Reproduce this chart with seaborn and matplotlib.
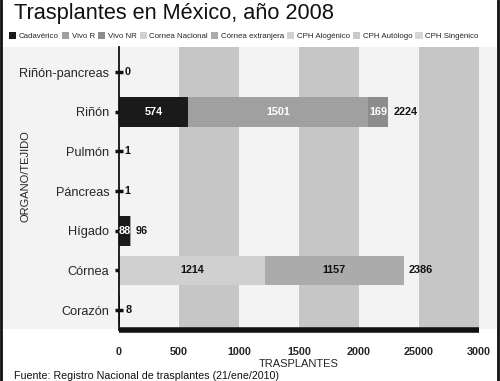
import numpy as np
import pandas as pd
import matplotlib.pyplot as plt
import seaborn as sns
from matplotlib.patches import Patch, Rectangle
from matplotlib.lines import Line2D
from matplotlib.font_manager import FontProperties

# datos
organos = ["Riñón-pancreas", "Riñón", "Pulmón", "Páncreas", "Hígado", "Córnea", "Corazón"]
cadaverico = [0, 574, 1, 1, 88, 0, 8]
vivo_r = [0, 1501, 0, 0, 8, 0, 0]
vivo_nr = [0, 169, 0, 0, 0, 0, 0]
cornea_nac = [0, 0, 0, 0, 0, 1214, 0]
cornea_ext = [0, 0, 0, 0, 0, 1157, 0]
totales = [0, 2224, 1, 1, 96, 2386, 8]
series = ["Cadavérico", "Vivo R", "Vivo NR", "Cornea Nacional", "Córnea extranjera",
          "CPH Alogénico", "CPH Autólogo", "CPH Singénico"]
xticks = [0, 500, 1000, 1500, 2000, 2500, 3000]
xticklabels = ["0", "500", "1000", "1500", "2000", "25000", "3000"]

colores = ["#1a1a1a", "#a0a0a0", "#8c8c8c", "#d0d0d0", "#ababab",
           "#d3d3d3", "#c9c9c9", "#d6d6d6"]
FONT = ["Liberation Sans", "DejaVu Sans"]

sns.set_style("white")
plt.rcParams["font.family"] = FONT

df = pd.DataFrame({"Organo": organos, "Cadavérico": cadaverico, "Vivo R": vivo_r,
                   "Vivo NR": vivo_nr, "Cornea Nacional": cornea_nac,
                   "Córnea extranjera": cornea_ext})
valores = df[series[:5]].to_numpy(dtype=float)
acum = np.cumsum(valores, axis=1)

fig = plt.figure(figsize=(5, 3.81), dpi=100)
W, H = 500, 381
ax = fig.add_axes([119 / W, 1 - 330 / H, 360 / W, 283 / H])
ax.set_zorder(2)

# fondo gris claro del panel
fondo = Rectangle((3 / W, 1 - 329 / H), 494 / W, 282 / H, transform=fig.transFigure,
                  facecolor="#f3f3f3", edgecolor="none", zorder=-5)
fig.add_artist(fondo)
ax.set_facecolor("none")

# franjas verticales
for a in range(500, 3000, 1000):
    ax.axvspan(a, a + 500, color="#c6c6c6", zorder=0.5, lw=0)

# barras apiladas (acumulados superpuestos)
for k in range(4, -1, -1):
    d = pd.DataFrame({"Organo": organos, "v": acum[:, k]})
    sns.barplot(data=d, x="v", y="Organo", orient="h", color=colores[k],
                width=0.75, saturation=1, ax=ax, zorder=2, linewidth=0)

# etiquetas dentro de las barras
for i in range(len(organos)):
    for k in range(5):
        v = valores[i, k]
        if v >= 50:
            izq = acum[i, k] - v
            col = "white" if k < 3 else "#111111"
            ax.text(izq + v / 2, i, f"{int(v)}", ha="center", va="center",
                    color=col, fontsize=7.8, fontweight="bold", zorder=5)
    ax.annotate(f"{totales[i]}", (acum[i, -1], i), xytext=(4, 0),
                textcoords="offset points", ha="left", va="center",
                fontsize=7.8, fontweight="bold", color="#111111", zorder=5)

ax.set_xlim(0, 3000)
ax.set_ylim(6.5, -0.63)
ax.set_xticks(xticks)
ax.set_xticklabels(xticklabels, fontsize=7.8, fontweight="bold")
ax.tick_params(axis="x", length=0, pad=12)
ax.tick_params(axis="y", left=True, direction="inout", length=6, width=2.5,
               color="#111111", labelsize=9.2, pad=4)
ax.set_xlabel("TRASPLANTES", fontsize=8, labelpad=2)
ax.set_ylabel("ORGANO/TEJIDO", fontsize=8)
ax.yaxis.set_label_coords(-0.245, 0.545)

for s in ["top", "right"]:
    ax.spines[s].set_visible(False)
ax.spines["left"].set_linewidth(1.3)
ax.spines["left"].set_color("#111111")
ax.spines["bottom"].set_linewidth(4)
ax.spines["bottom"].set_color("#111111")
ax.spines["bottom"].set_capstyle("butt")

# título, leyenda y fuente
fig.text(14 / W, 1 - 13 / H, "Trasplantes en México, año 2008", fontsize=15.7,
         va="center", ha="left", color="#111111")
handles = [Patch(facecolor=c, edgecolor="none") for c in colores]
fig.legend(handles, series, loc="center left", bbox_to_anchor=(2 / W, 1 - 36 / H),
           ncol=8, frameon=False, handlelength=0.9, handleheight=1.0,
           handletextpad=0.35, columnspacing=0.38,
           prop=FontProperties(family=FONT, size=5.7))
fig.text(14 / W, 1 - 376 / H, "Fuente: Registro Nacional de trasplantes (21/ene/2010)",
         fontsize=7.7, va="center", ha="left", color="#111111")

# marco negro lateral
for xf in (1 / W, 498 / W):
    fig.add_artist(Line2D([xf, xf], [0, 1], color="#111111", lw=2,
                          transform=fig.transFigure))

fig.savefig("out.png", dpi=100)
